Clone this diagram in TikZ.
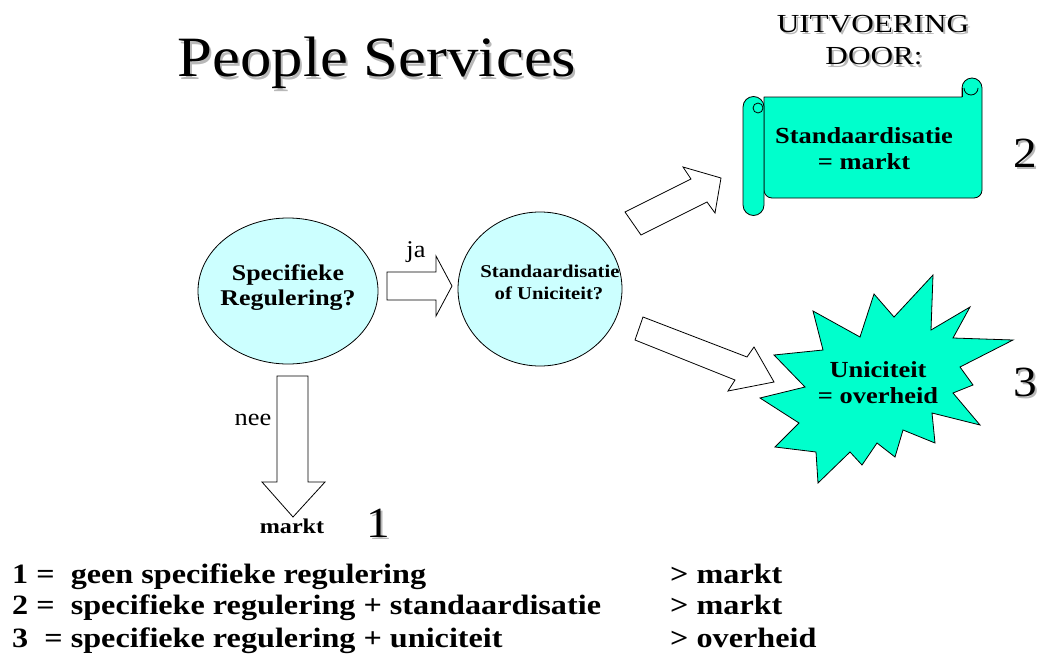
\documentclass[tikz,border=0pt]{standalone}
\usepackage{fontspec}
\setmainfont[FakeStretch=1.1, BoldFeatures={FakeStretch=1.15}]{Liberation Serif}
\newfontfamily\widefont[FakeStretch=1.2]{Liberation Serif}
\usetikzlibrary{shapes.geometric}
\definecolor{aqua}{HTML}{00FFCC}
\definecolor{lightcy}{HTML}{CCFFFF}
\newcommand\shadowed[1]{\leavevmode\rlap{\kern2pt\raisebox{-2pt}{\textcolor{black!28}{#1}}}#1}
\newcommand\fs[1]{\fontsize{#1}{#1}\selectfont}
\tikzset{
  txt/.style={inner sep=0pt, anchor=base},
  txtl/.style={inner sep=0pt, anchor=base west},
  bubble/.style={ellipse, draw=black, line width=0.8pt, fill=lightcy, inner sep=0pt},
  blockarrow/.style={draw=black, line width=0.8pt, fill=white, line join=miter},
  aquashape/.style={draw=black, line width=0.8pt, fill=aqua, line join=round}
}
\begin{document}
\begin{tikzpicture}[x=1pt,y=-1pt]
\useasboundingbox (0,0) rectangle (1041,661);
% title
\node[txt] (title) at (377,77) {\fs{57}\shadowed{People Services}};
\node[txt] (uit) at (873,33) {\widefont\fs{26}\shadowed{UITVOERING}};
\node[txt] (door) at (874,65) {\widefont\fs{26}\shadowed{DOOR:}};
% question bubbles
\node[bubble, minimum width=180pt, minimum height=146pt] (q1) at (288,291) {};
\node[txt] (q1a) at (288,280) {\fs{22.5}\bfseries Specifieke};
\node[txt] (q1b) at (288,305) {\fs{22.5}\bfseries Regulering?};
\node[bubble, minimum width=164pt, minimum height=154pt] (q2) at (540,289) {};
\node[txt] (q2a) at (550,277) {\fs{18}\bfseries Standaardisatie};
\node[txt] (q2b) at (549,299) {\fs{18}\bfseries of Uniciteit?};
% ja arrow
\draw[blockarrow] (387,272) -- (436,272) -- (436,256) -- (452,286) -- (436,316) -- (436,300) -- (387,300) -- cycle;
\node[txt] (ja) at (416,257) {\fs{24}ja};
% nee arrow
\draw[blockarrow] (277,376) -- (308,376) -- (308,482) -- (325,482) -- (293,517) -- (262,482) -- (277,482) -- cycle;
\node[txt] (nee) at (253,425) {\fs{24}nee};
\node[txt] (markt) at (292,533) {\fs{21}\bfseries markt};
\node[txt] (n1) at (378,537) {\fs{43}\shadowed{1}};
% diagonal arrows
\draw[blockarrow] (625,212) -- (691,179) -- (683,167) -- (721,178) -- (715,213) -- (707,202) -- (641,235) -- cycle;
\draw[blockarrow] (643,317) -- (747,357) -- (754,347) -- (774,382) -- (728,391) -- (735,380) -- (635,340) -- cycle;
% scroll
\draw[aquashape] (764,97) -- (962,97) -- (962,88) arc (180:360:10) -- (982,190) [rounded corners=8pt] -- (982,198) -- (764,198) [sharp corners] -- cycle;
\draw[line width=0.8pt] (962,97) -- (962,88);
\draw[line width=0.8pt] (964,88) arc (180:0:7);
\draw[aquashape] (743,107) arc (180:360:10.5) -- (764,205) arc (0:180:10.5) -- cycle;
\draw[line width=0.8pt] (758,108) circle (5);
\node[txt] (s1) at (864,143) {\fs{23}\bfseries Standaardisatie};
\node[txt] (s2) at (864,169) {\fs{23}\bfseries = markt};
\node[txt] (n2) at (1025,167) {\fs{43}\shadowed{2}};
% star
\draw[aquashape, line join=miter] (933,275) -- (931,330) -- (970,307) -- (953,338) -- (1013,340) -- (960,367) -- (973,385) -- (953,393) -- (980,425) -- (932,413) -- (935,443) -- (903,430) -- (895,457) -- (877,443) -- (862,465) -- (850,452) -- (818,483) -- (816,452) -- (775,447) -- (799,423) -- (760,398) -- (805,387) -- (774,355) -- (823,350) -- (813,311) -- (860,337) -- (874,294) -- (894,317) -- cycle;
\node[txt] (u1) at (878,377) {\fs{23}\bfseries Uniciteit};
\node[txt] (u2) at (878,403) {\fs{23}\bfseries = overheid};
\node[txt] (n3) at (1025,396) {\fs{43}\shadowed{3}};
% legend
\node[txtl] (l1) at (12,583) {\fs{28}\bfseries 1 =\ \ geen specifieke regulering};
\node[txtl] (l2) at (12,614) {\fs{28}\bfseries 2 =\ \ specifieke regulering + standaardisatie};
\node[txtl] (l3) at (12,647) {\fs{28}\bfseries 3\ \ = specifieke regulering + uniciteit};
\node[txtl] (r1) at (670,583) {\fs{28}\bfseries > markt};
\node[txtl] (r2) at (670,614) {\fs{28}\bfseries > markt};
\node[txtl] (r3) at (670,647) {\fs{28}\bfseries > overheid};
\end{tikzpicture}
\end{document}
